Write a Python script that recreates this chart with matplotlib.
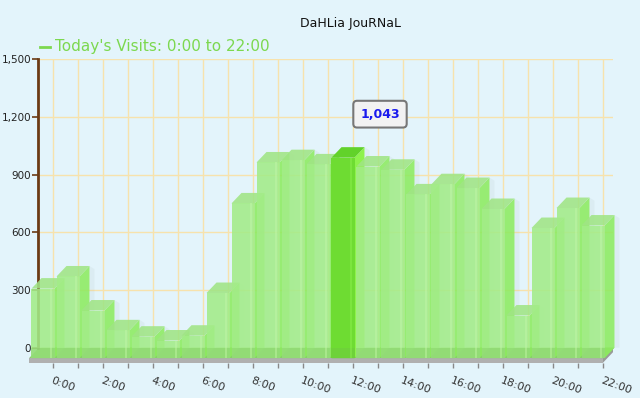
import matplotlib.pyplot as plt
from matplotlib.patches import Polygon
from matplotlib.ticker import FuncFormatter

# data
hours = [f"{h}:00" for h in range(23)]
visits = [362, 425, 248, 145, 112, 92, 117, 339, 805, 1018, 1030, 1008,
          1043, 997, 980, 852, 905, 885, 776, 222, 677, 781, 690]
peak = visits.index(max(visits))
y_ticks = [0, 300, 600, 900, 1200, 1500]

bg = '#e3f4fb'
grid_c = '#f7e2ac'

fig = plt.figure(figsize=(6.4, 3.98), dpi=100)
fig.patch.set_facecolor(bg)
W, H = 640, 398
ax = fig.add_axes([38 / W, (H - 347.7) / H, 575 / W, 288.4 / H])
ax.set_facecolor(bg)
ax.set_xlim(-0.6, 22.4)
ax.set_ylim(0, 1500)

# depth of the fake 3d, in pixels -> data units
px_x = 575 / 23.0
px_y = 288.4 / 1500.0
ddx = 10 / px_x
ddy = 10.5 / px_y
base_h = 4.5 / px_y
w = 0.92

ax.set_yticks(y_ticks)
ax.yaxis.set_major_formatter(FuncFormatter(lambda v, p: f"{int(v):,}"))
ax.set_xticks(range(len(hours)))
ax.set_xticklabels([h if i % 2 == 0 else '' for i, h in enumerate(hours)])
ax.grid(True, color=grid_c, lw=1)
ax.set_axisbelow(True)

for s in ['top', 'right']:
    ax.spines[s].set_visible(False)
ax.spines['left'].set_color('#6b3a14')
ax.spines['left'].set_linewidth(2)
ax.spines['bottom'].set_position(('outward', 15.5 * 72 / 100))
ax.spines['bottom'].set_color('none')
ax.tick_params(axis='y', colors='#6b3a14', labelcolor='#222222',
               labelsize=7.5, length=4, width=1.2, pad=1)
ax.tick_params(axis='x', colors='#888888', labelcolor='#333333',
               labelsize=8, length=3.5, width=1, pad=5)
for lab in ax.get_xticklabels():
    lab.set_rotation(-20)
    lab.set_ha('left')
    lab.set_va('top')
    lab.set_rotation_mode('anchor')

# floor + grey base
x0, x1 = -0.56, 22.4
ax.add_patch(Polygon([(x0 - ddx, -ddy), (x1 - ddx, -ddy), (x1, 0), (x0, 0)],
                     closed=True, fc='#88cf6a', ec='none', clip_on=False, zorder=2))
ax.add_patch(Polygon([(x0 - ddx, -ddy), (x1 - ddx, -ddy), (x1 - ddx, -ddy - base_h),
                      (x0 - ddx, -ddy - base_h)],
                     closed=True, fc='#b0b0b0', ec='none', clip_on=False, zorder=2))
ax.add_patch(Polygon([(x1 - ddx, -ddy), (x1, 0), (x1, -base_h), (x1 - ddx, -ddy - base_h)],
                     closed=True, fc='#9a9a9a', ec='none', clip_on=False, zorder=2))

for i, v in enumerate(visits):
    L, R = i - w / 2, i + w / 2
    if i == peak:
        front, top, side, bottom = '#6edc32', '#62d22a', '#8ef24c', '#5fc92a'
        a = 1.0
    else:
        front, top, side, bottom = '#a3ec88', '#a0e585', '#8deb60', '#86cf66'
        a = 0.88
    z = 3 + i * 0.01
    ax.add_patch(Polygon([(L - ddx, -ddy), (R - ddx, -ddy), (R, 0), (L, 0)],
                         closed=True, fc=bottom, ec='none', alpha=a, clip_on=False, zorder=z))
    # soft shadow
    ax.add_patch(Polygon([(R, 0), (R + 0.2, 0), (R + 0.2, v - ddy * 0.3), (R, v)],
                         closed=True, fc='#9aa8a8', ec='none', alpha=0.1, clip_on=False, zorder=z))
    ax.add_patch(Polygon([(R - ddx, -ddy), (R, 0), (R, v), (R - ddx, v - ddy)],
                         closed=True, fc=side, ec='none', alpha=a, clip_on=False, zorder=z))
    ax.add_patch(Polygon([(L - ddx, v - ddy), (R - ddx, v - ddy), (R, v), (L, v)],
                         closed=True, fc=top, ec='none', alpha=a, clip_on=False, zorder=z))
    ax.add_patch(Polygon([(L - ddx, -ddy), (R - ddx, -ddy), (R - ddx, v - ddy), (L - ddx, v - ddy)],
                         closed=True, fc=front, ec='none', alpha=a, clip_on=False, zorder=z))
    # darker band at the foot of the front face
    ax.add_patch(Polygon([(L - ddx, -ddy), (R - ddx, -ddy), (R - ddx, 0), (L - ddx, 0)],
                         closed=True, fc='#6fb84f', ec='none', alpha=0.25, clip_on=False, zorder=z))
    # light stripe near right edge of front face
    ax.add_patch(Polygon([(R - ddx - 0.2, -ddy), (R - ddx - 0.12, -ddy),
                          (R - ddx - 0.12, v - ddy), (R - ddx - 0.2, v - ddy)],
                         closed=True, fc='#c4f7a8' if i != peak else '#8ef050',
                         ec='none', alpha=0.45, clip_on=False, zorder=z))

# tooltip
ax.annotate(f"{visits[peak]:,}", xy=(peak, visits[peak]), xytext=(27, 33),
            textcoords='offset pixels', ha='center', va='center',
            fontsize=9, fontweight='bold', color='#1a1aee', zorder=10,
            bbox=dict(boxstyle='round,pad=0.55,rounding_size=0.3', fc='#f2f2f2',
                      ec='#777777', lw=1.5))

fig.text(351 / W, 1 - 23 / H, 'DaHLia JouRNaL', ha='center', va='center',
         fontsize=9, color='#111111')
fig.lines.append(plt.Line2D([40 / W, 50 / W], [1 - 47 / H, 1 - 47 / H],
                            transform=fig.transFigure, color='#7cd84f', lw=2))
fig.text(55 / W, 1 - 47 / H, "Today's Visits: 0:00 to 22:00", ha='left', va='center',
         fontsize=11, color='#7cd84f')

fig.savefig('out.png', dpi=100, facecolor=bg)
